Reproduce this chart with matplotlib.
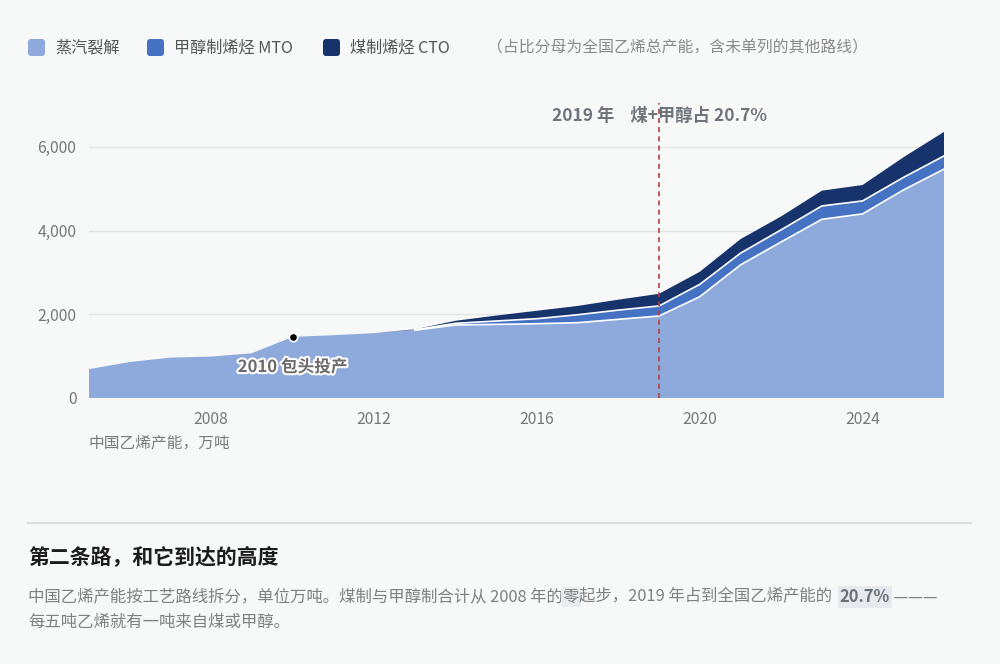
import matplotlib
matplotlib.use("Agg")
import matplotlib.pyplot as plt
import matplotlib.patheffects as pe
from matplotlib.patches import FancyBboxPatch
from matplotlib.transforms import IdentityTransform
from matplotlib.ticker import FuncFormatter
import numpy as np

plt.rcParams['font.family'] = ['Noto Sans CJK SC', 'DejaVu Sans']

# 中国乙烯产能，万吨
years = np.arange(2005, 2027)
steam = [690, 860, 965, 990, 1070, 1460, 1500, 1550, 1620, 1745, 1760,
         1775, 1800, 1880, 1960, 2420, 3180, 3730, 4270, 4400, 4970, 5470]
mto = [0, 0, 0, 0, 0, 0, 0, 0, 10, 40, 80,
       120, 190, 220, 240, 295, 280, 290, 320, 310, 300, 315]
cto = [0, 0, 0, 0, 0, 0, 0, 0, 10, 60, 130,
       190, 210, 250, 290, 300, 335, 320, 365, 380, 480, 575]
labels = ['蒸汽裂解', '甲醇制烯烃 MTO', '煤制烯烃 CTO']
colors = ['#8eaadc', '#4672c4', '#16336b']
xticks = [2008, 2012, 2016, 2020, 2024]
yticks = [0, 2000, 4000, 6000]
mark_year = 2019
baotou_year = 2010

W, H = 1000, 664
bg = '#f7f8f8'
fig = plt.figure(figsize=(W / 100, H / 100), dpi=100, facecolor=bg)
ax = fig.add_axes([89 / W, 1 - 398 / H, 855 / W, 295 / H])
ax.set_facecolor(bg)

steam = np.array(steam)
mto = np.array(mto)
cto = np.array(cto)
ax.stackplot(years, steam, mto, cto, colors=colors, linewidth=0, zorder=2)

# white seams between the layers (only where the coal/methanol layers exist)
s = 8
ax.plot(years[s:], steam[s:], color='white', lw=1.2, zorder=3)
ax.plot(years[s:], (steam + mto)[s:], color='white', lw=1.2, zorder=3)

ax.set_xlim(2005, 2026)
ax.set_ylim(0, 7050)
ax.set_xticks(xticks)
ax.set_yticks(yticks)
ax.yaxis.set_major_formatter(FuncFormatter(lambda v, p: f'{v:,.0f}'))
ax.tick_params(length=0, labelsize=11.3, labelcolor='#777777')
ax.tick_params(axis='x', pad=9)
ax.tick_params(axis='y', pad=9)
for sp in ax.spines.values():
    sp.set_visible(False)
ax.grid(axis='y', color='#e3e5e6', lw=1, zorder=0)
ax.set_axisbelow(True)

# 2019 marker line
ax.axvline(mark_year, color='#b5403f', lw=1.2, ls=(0, (3, 2.5)), zorder=4)
ax.text(mark_year, 6740, '2019 年    煤+甲醇占 20.7%', ha='center', va='center',
        fontsize=12.5, fontweight='bold', color='#6e747a', zorder=5)

# 2010 Baotou
i = list(years).index(baotou_year)
ax.plot([baotou_year], [steam[i] + mto[i] + cto[i]], 'o', ms=6, color='black',
        mec='white', mew=1.2, zorder=6)
ax.text(baotou_year, 740, '2010 包头投产', ha='center', va='center', fontsize=12,
        fontweight='bold', color='#6b6b6b', zorder=6,
        path_effects=[pe.withStroke(linewidth=3, foreground='white')])

fig.text(89 / W, 1 - 443 / H, '中国乙烯产能，万吨', fontsize=11.3, color='#7a7a7a',
         va='center', ha='left')

# legend
legx = [28, 147, 323]
for x0, lab, c in zip(legx, labels, colors):
    fig.add_artist(FancyBboxPatch((x0, H - 56), 17, 17,
                                  boxstyle='round,pad=0,rounding_size=3',
                                  fc=c, ec='none', transform=IdentityTransform()))
    fig.text((x0 + 27) / W, 1 - 47.5 / H, lab, fontsize=11.6, color='#555555',
             va='center', ha='left')
fig.text(487 / W, 1 - 47.5 / H, '（占比分母为全国乙烯总产能，含未单列的其他路线）',
         fontsize=11.4, color='#8a8a8a', va='center', ha='left')

# separator and caption
fig.add_artist(plt.Line2D([28 / W, 971 / W], [1 - 523 / H, 1 - 523 / H],
                          color='#dcdfe0', lw=1.5))
fig.text(28 / W, 1 - 557 / H, '第二条路，和它到达的高度', fontsize=15,
         fontweight='bold', color='#1c1c1c', va='center', ha='left')

renderer = fig.canvas.get_renderer()


def run_line(parts, x, y):
    for txt, kw in parts:
        t = fig.text(x / W, 1 - y / H, txt, va='center', ha='left', **kw)
        bb = t.get_window_extent(renderer)
        x += bb.width


body = dict(fontsize=11.8, color='#808080')
run_line([
    ('中国乙烯产能按工艺路线拆分，单位万吨。煤制与甲醇制合计从 2008 年的', body),
    ('零', dict(body, bbox=dict(boxstyle='square,pad=0.1', fc='#e9ecef', ec='none'))),
    ('起步，2019 年占到全国乙烯产能的  ', body),
    ('20.7%', dict(fontsize=11.8, color='#6a6f75', fontweight='bold',
                   bbox=dict(boxstyle='square,pad=0.12', fc='#e6eaef', ec='none'))),
    (' ———', body),
], 28, 597)
run_line([('每五吨乙烯就有一吨来自煤或甲醇。', body)], 28, 622)

fig.savefig('out.png', dpi=100, facecolor=bg)
